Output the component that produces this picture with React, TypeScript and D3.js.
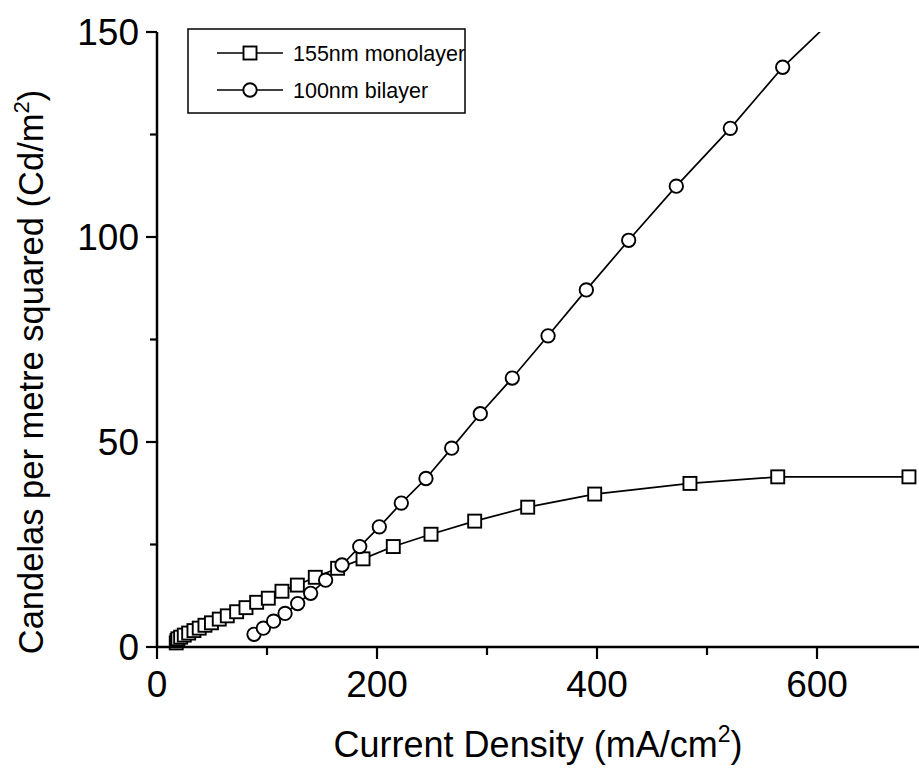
import React from "react";
import * as d3 from "d3";

const monoX = [17.5, 18.2, 19, 21.5, 24.8, 28.8, 33.6, 38.4, 43.6, 49.5, 56.6, 63.9, 72.4, 80.9, 90.6, 101.2, 113.6, 127.6, 143.9, 164.2, 187.3, 214.8, 249.1, 288.8, 337, 397.9, 484.5, 564.3, 683.6];
const monoY = [1.0, 1.6, 2.0, 2.4, 2.9, 3.4, 4.0, 4.6, 5.3, 5.9, 6.8, 7.6, 8.6, 9.6, 10.9, 11.9, 13.6, 15.1, 17.0, 19.2, 21.5, 24.5, 27.5, 30.7, 34.1, 37.3, 39.9, 41.5, 41.5];

const biX = [88.2, 96.7, 106, 116.4, 127.9, 139.7, 153.3, 168.2, 184.3, 202.1, 222.1, 244.5, 267.9, 293.9, 323, 355.5, 390.3, 428.8, 472.1, 521.2, 568.8, 622];
const biY = [3.1, 4.6, 6.3, 8.2, 10.6, 13.1, 16.3, 20.0, 24.5, 29.3, 35.1, 41.1, 48.5, 56.9, 65.6, 75.9, 87.1, 99.2, 112.4, 126.5, 141.4, 155];

const xMajor = [0, 200, 400, 600];
const xMinor = [100, 300, 500, 700];
const yMajor = [0, 50, 100, 150];
const yMinor = [25, 75, 125];
const legendLabels = ["155nm monolayer", "100nm bilayer"];

const W = 919, H = 773;
const FONT = "'Liberation Sans', Arial, Helvetica, sans-serif";

export default function App() {
  const x = d3.scaleLinear().domain([0, 700]).range([157, 927]);
  const y = d3.scaleLinear().domain([0, 150]).range([647, 32]);
  const line = d3.line<[number, number]>().x(d => x(d[0])).y(d => y(d[1]));
  const mono: [number, number][] = monoX.map((v, i) => [v, monoY[i]]);
  const bi: [number, number][] = biX.map((v, i) => [v, biY[i]]);
  const sq = 13;
  const r = 6.7;
  const mStroke = 1.9;

  return (
    <svg width={W} height={H} style={{ position: "absolute", left: 0, top: 0, background: "#fff" }} fontFamily={FONT}>
      <defs>
        <clipPath id="plotClip">
          <rect x={140} y={y(150)} width={W - 140} height={670 - y(150)} />
        </clipPath>
      </defs>
      <rect x={0} y={0} width={W} height={H} fill="#fff" />
      <g clipPath="url(#plotClip)">
        <path d={line(mono) || ""} fill="none" stroke="#000" strokeWidth={1.7} />
        <path d={line(bi) || ""} fill="none" stroke="#000" strokeWidth={1.7} />
        {mono.map((d, i) => (
          <rect key={"s" + i} x={x(d[0]) - sq / 2} y={y(d[1]) - sq / 2} width={sq} height={sq} fill="#fff" stroke="#000" strokeWidth={mStroke} />
        ))}
        {bi.map((d, i) => (
          <circle key={"c" + i} cx={x(d[0])} cy={y(d[1])} r={r} fill="#fff" stroke="#000" strokeWidth={mStroke} />
        ))}
      </g>
      {/* axes */}
      <line x1={x(0)} x2={W} y1={y(0)} y2={y(0)} stroke="#000" strokeWidth={2.5} />
      <line x1={x(0)} x2={x(0)} y1={y(0) + 1} y2={y(150)} stroke="#000" strokeWidth={2.5} />
      {xMajor.map(v => (
        <g key={"xM" + v}>
          <line x1={x(v)} x2={x(v)} y1={y(0)} y2={y(0) + 12} stroke="#000" strokeWidth={2.2} />
          <text x={x(v)} y={697} textAnchor="middle" fontSize={37} fill="#000">{v}</text>
        </g>
      ))}
      {xMinor.filter(v => x(v) < W).map(v => (
        <line key={"xm" + v} x1={x(v)} x2={x(v)} y1={y(0)} y2={y(0) + 8} stroke="#000" strokeWidth={2.2} />
      ))}
      {yMajor.map(v => (
        <g key={"yM" + v}>
          <line x1={x(0) - 11} x2={x(0)} y1={y(v)} y2={y(v)} stroke="#000" strokeWidth={2.2} />
          <text x={139} y={y(v) + 13} textAnchor="end" fontSize={37} fill="#000">{v}</text>
        </g>
      ))}
      {yMinor.map(v => (
        <line key={"ym" + v} x1={x(0) - 7} x2={x(0)} y1={y(v)} y2={y(v)} stroke="#000" strokeWidth={2.2} />
      ))}
      {/* axis titles */}
      <text x={538} y={757} textAnchor="middle" fontSize={36} fill="#000">
        Current Density (mA/cm<tspan fontSize={23} dy={-15}>2</tspan><tspan dy={15}>)</tspan>
      </text>
      <text transform="translate(43,372) rotate(-90)" textAnchor="middle" fontSize={34.5} fill="#000">
        Candelas per metre squared (Cd/m<tspan fontSize={22} dy={-14}>2</tspan><tspan dy={14}>)</tspan>
      </text>
      {/* legend */}
      <rect x={188} y={29} width={277} height={84} fill="#fff" stroke="#000" strokeWidth={1.5} />
      {legendLabels.map((lab, i) => {
        const ly = 53 + i * 37;
        return (
          <g key={"lg" + i}>
            <line x1={217} x2={283} y1={ly} y2={ly} stroke="#000" strokeWidth={1.7} />
            {i === 0 ? (
              <rect x={250 - sq / 2} y={ly - sq / 2} width={sq} height={sq} fill="#fff" stroke="#000" strokeWidth={mStroke} />
            ) : (
              <circle cx={250} cy={ly} r={r} fill="#fff" stroke="#000" strokeWidth={mStroke} />
            )}
            <text x={293} y={ly + 8} fontSize={21.5} fill="#000">{lab}</text>
          </g>
        );
      })}
    </svg>
  );
}
